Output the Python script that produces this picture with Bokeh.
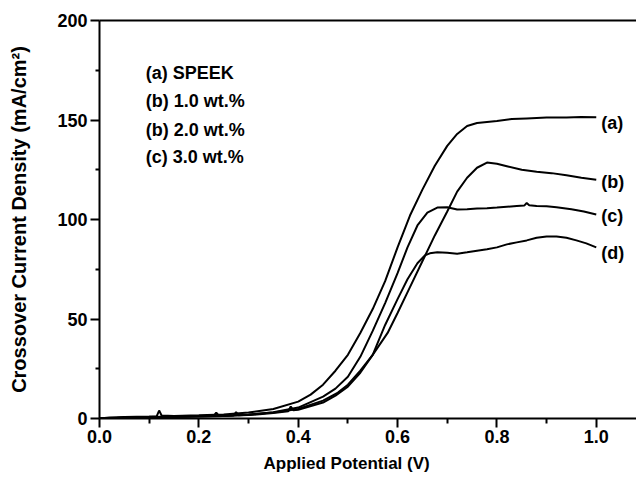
from bokeh.plotting import figure
from bokeh.models import FixedTicker, LinearAxis, Range1d, Label, NumeralTickFormatter, Title
from bokeh.embed import file_html
from bokeh.resources import INLINE

# ---- data ----
xa = [0.00, 0.02, 0.05, 0.10, 0.115, 0.12, 0.125, 0.15, 0.20, 0.25, 0.30, 0.35, 0.40, 0.425, 0.45, 0.475,
      0.50, 0.525, 0.55, 0.575, 0.60, 0.625, 0.65, 0.675, 0.70, 0.72, 0.74, 0.76, 0.78, 0.80, 0.83, 0.86,
      0.90, 0.94, 0.97, 1.00]
ya = [0.0, 0.5, 0.8, 1.0, 1.1, 4.0, 1.5, 1.3, 1.6, 2.0, 3.0, 4.8, 8.5, 12, 17, 24,
      32, 43, 55, 69, 86, 102, 115, 127, 137, 143, 147, 148.5, 149, 149.5, 150.5, 150.8,
      151.2, 151.3, 151.5, 151.4]

xb = [0.00, 0.05, 0.10, 0.15, 0.20, 0.23, 0.235, 0.24, 0.25, 0.30, 0.35, 0.40, 0.45, 0.48, 0.50, 0.525,
      0.55, 0.58, 0.60, 0.625, 0.65, 0.675, 0.70, 0.72, 0.74, 0.76, 0.78, 0.80, 0.82, 0.85, 0.88, 0.91,
      0.94, 0.97, 1.00]
yb = [0.0, 0.4, 0.7, 0.9, 1.1, 1.3, 3.0, 1.4, 1.4, 2.0, 3.0, 4.8, 9, 13, 17, 24,
      32, 43, 53, 66, 79, 92, 104, 114, 121, 126, 128.6, 128, 126.8, 125, 124, 123.3,
      122.2, 121, 120]

xc = [0.00, 0.05, 0.10, 0.15, 0.20, 0.25, 0.27, 0.275, 0.28, 0.30, 0.35, 0.40, 0.45, 0.475, 0.50, 0.525,
      0.55, 0.575, 0.60, 0.62, 0.64, 0.66, 0.68, 0.70, 0.72, 0.74, 0.76, 0.78, 0.80, 0.82, 0.84, 0.855,
      0.86, 0.865, 0.88, 0.90, 0.92, 0.95, 0.975, 1.00]
yc = [0.0, 0.4, 0.7, 0.9, 1.1, 1.3, 1.5, 3.2, 1.6, 1.9, 3.2, 5.5, 11, 15, 21, 31,
      44, 58, 73, 86, 97, 103.5, 106, 106.2, 105, 105.2, 105.5, 105.7, 106, 106.4, 106.8, 107,
      108.3, 107.2, 106.8, 106.6, 106.2, 105.2, 104, 102.5]

xd = [0.00, 0.05, 0.10, 0.15, 0.20, 0.25, 0.30, 0.35, 0.38, 0.385, 0.39, 0.40, 0.45, 0.475, 0.50, 0.525,
      0.55, 0.575, 0.60, 0.62, 0.64, 0.655, 0.665, 0.68, 0.70, 0.72, 0.74, 0.76, 0.78, 0.80, 0.82, 0.84,
      0.86, 0.88, 0.90, 0.92, 0.94, 0.96, 0.98, 1.00]
yd = [0.0, 0.4, 0.6, 0.8, 1.0, 1.2, 1.7, 2.8, 3.6, 6.0, 4.2, 4.4, 8, 11.5, 16, 23,
      32, 47, 60, 70, 78, 82, 83, 83.5, 83.3, 82.8, 83.5, 84.3, 85, 86, 87.5, 88.5,
      89.5, 90.8, 91.5, 91.4, 90.8, 89.5, 88, 86]

curve_tags = ["(a)", "(b)", "(c)", "(d)"]
curve_tag_y = [148.7, 119.0, 102.0, 83.4]
curve_tag_x = 1.01

legend_lines = ["(a) SPEEK", "(b) 1.0 wt.%", "(b) 2.0 wt.%", "(c) 3.0 wt.%"]
legend_y = [173.4, 159.3, 145.2, 131.2]
legend_x = 0.093

x_major = [0.0, 0.2, 0.4, 0.6, 0.8, 1.0]
x_minor = [0.1, 0.3, 0.5, 0.7, 0.9]
y_major = [0, 50, 100, 150, 200]
y_minor = [25, 75, 125, 175]

x_title = "Applied Potential (V)"
y_title = "Crossover Current Density (mA/cm\u00b2)"

FONT = "Liberation Sans"

p = figure(width=636, height=481, output_backend="svg", toolbar_location=None,
           x_range=Range1d(0, 1.081), y_range=Range1d(0, 200),
           min_border_left=99, min_border_top=20, min_border_bottom=63, min_border_right=0)
p.outline_line_color = None
p.xgrid.visible = False
p.ygrid.visible = False
p.background_fill_color = "white"
p.border_fill_color = "white"

for xs, ys in [(xa, ya), (xb, yb), (xc, yc), (xd, yd)]:
    p.line(xs, ys, line_color="black", line_width=2)

for ax in (p.xaxis[0], p.yaxis[0]):
    ax.axis_line_width = 2
    ax.major_tick_line_width = 2
    ax.minor_tick_line_width = 2
    ax.major_tick_in = 0
    ax.minor_tick_in = 0
    ax.major_label_text_font = FONT
    ax.major_label_text_font_style = "bold"
    ax.major_label_text_font_size = "18px"
    ax.major_label_text_color = "black"

p.xaxis[0].ticker = FixedTicker(ticks=x_major, minor_ticks=x_minor)
p.xaxis[0].formatter = NumeralTickFormatter(format="0.0")
p.xaxis[0].major_tick_out = 9
p.xaxis[0].minor_tick_out = 5
p.xaxis[0].major_label_standoff = 2

p.yaxis[0].ticker = FixedTicker(ticks=y_major, minor_ticks=y_minor)
p.yaxis[0].major_tick_out = 9
p.yaxis[0].minor_tick_out = 4
p.yaxis[0].major_label_standoff = 3
p.yaxis[0].axis_label = y_title
p.yaxis[0].axis_label_text_font = FONT
p.yaxis[0].axis_label_text_font_style = "bold"
p.yaxis[0].axis_label_text_font_size = "20px"
p.yaxis[0].axis_label_text_color = "black"
p.yaxis[0].axis_label_standoff = 24

top = LinearAxis(ticker=FixedTicker(ticks=[]), axis_line_width=2,
                 major_tick_line_color=None, minor_tick_line_color=None,
                 major_label_text_font_size="0px")
p.add_layout(top, "above")

p.add_layout(Title(text=x_title, align="left", offset=164, standoff=12, text_font=FONT,
                   text_font_style="bold", text_font_size="17px", text_color="black"), "below")

for t, yv in zip(curve_tags, curve_tag_y):
    p.add_layout(Label(x=curve_tag_x, y=yv, text=t, text_font=FONT, text_font_style="bold",
                       text_font_size="18px", text_baseline="middle", text_align="left",
                       text_color="black"))

for t, yv in zip(legend_lines, legend_y):
    p.add_layout(Label(x=legend_x, y=yv, text=t, text_font=FONT, text_font_style="bold",
                       text_font_size="18px", text_baseline="middle", text_align="left",
                       text_color="black"))

open("out.html", "w").write(file_html(p, INLINE))
